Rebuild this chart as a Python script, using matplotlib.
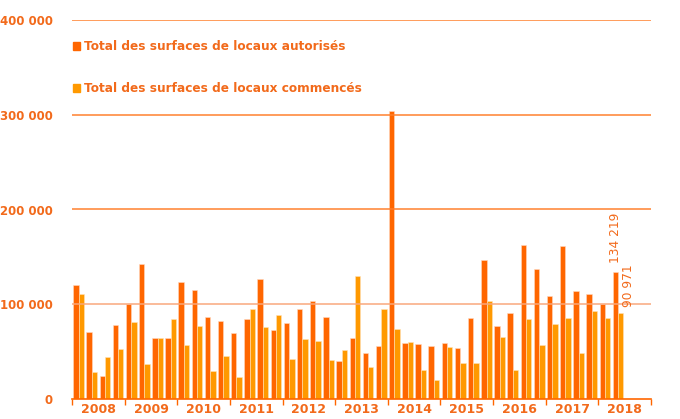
import matplotlib
matplotlib.use("Agg")
import matplotlib.pyplot as plt
from matplotlib.patches import Patch
import numpy as np

# Quarterly surfaces (m2), 2008 Q1 -> 2018 Q2
years = ["2008", "2009", "2010", "2011", "2012", "2013",
         "2014", "2015", "2016", "2017", "2018"]
autorises = [120000, 71000, 24000, 78000, 100000, 142000, 64000, 64000,
             124000, 115000, 86500, 82000, 70000, 84500, 127000, 73000,
             80000, 95000, 103500, 87000, 40000, 64000, 49000, 56000,
             303500, 59500, 58000, 56000, 59500, 54000, 85000, 147000,
             77000, 90500, 162500, 137000, 109000, 162000, 113500, 111000,
             100000, 134219]
commences = [110500, 28500, 44500, 53000, 81000, 37000, 64000, 84000,
             57000, 77000, 30000, 45000, 23000, 95000, 76000, 89000,
             42000, 63000, 61000, 41000, 51500, 129500, 33500, 94500,
             74000, 60500, 30500, 20500, 55000, 38000, 38000, 103000,
             65000, 30500, 84500, 57000, 79000, 85000, 48500, 93000,
             85500, 90971]
label_autorises = "Total des surfaces de locaux autorisés"
label_commences = "Total des surfaces de locaux commencés"
y_ticks = [0, 100000, 200000, 300000, 400000]

DARK = "#FF6600"
LIGHT = "#FF9900"
TEXT = "#F26A1B"

plt.rcParams['font.family'] = ['DejaVu Sans']


def fmt(v):
    return f"{v:,}".replace(",", " ")


fig = plt.figure(figsize=(6.8, 4.19), dpi=100)
ax = fig.add_axes([72 / 680, 20 / 419, 579 / 680, 379 / 419])

x = np.arange(len(autorises))
w = 0.41
ax.bar(x - w / 2, autorises, w, color=DARK, edgecolor="#FFD9C0", linewidth=0.4, zorder=2)
ax.bar(x + w / 2, commences, w, color=LIGHT, edgecolor="#FFE2B8", linewidth=0.4, zorder=2)

# grid lines on top of the bars
for v in y_ticks[1:]:
    col = "#F9A77A" if v == 100000 else "#FF7F2A"
    ax.axhline(v, color=col, linewidth=1.2, alpha=0.9, zorder=3)

ax.set_xlim(-0.5, 4 * len(years) - 0.5)
ax.set_ylim(0, 400000)

ax.set_yticks(y_ticks)
ax.set_yticklabels([fmt(v) for v in y_ticks])
ax.tick_params(axis="y", length=0, pad=14, labelsize=8.5, labelcolor=TEXT)
for t in ax.get_yticklabels():
    t.set_fontweight("bold")

ax.set_xticks(np.arange(len(years) + 1) * 4 - 0.5)
ax.set_xticklabels([])
ax.set_xticks(np.arange(len(years)) * 4 + 1.5, minor=True)
ax.set_xticklabels(years, minor=True)
ax.tick_params(axis="x", which="major", length=4, color=DARK, width=1)
ax.tick_params(axis="x", which="minor", length=0, pad=3, labelsize=9, labelcolor=TEXT)
for t in ax.get_xticklabels(minor=True):
    t.set_fontweight("bold")

for s in ["top", "right", "left"]:
    ax.spines[s].set_visible(False)
ax.spines["bottom"].set_color(DARK)
ax.spines["bottom"].set_linewidth(1.2)

# value labels on the last quarter
last = len(autorises) - 1
ax.text(last - w / 2, autorises[last] + 9000, fmt(autorises[last]),
        rotation=90, ha="center", va="bottom", color=TEXT, fontsize=8.8)
ax.text(last + w / 2 + 0.6, commences[last] + 6000, fmt(commences[last]),
        rotation=90, ha="center", va="bottom", color=TEXT, fontsize=8.8)

handles = [Patch(color=DARK), Patch(color=LIGHT)]
ax.legend(handles, [label_autorises, label_commences], loc="upper left",
          bbox_to_anchor=(-0.007, 0.96), frameon=False, handlelength=0.6,
          handleheight=0.6, handletextpad=0.35, labelspacing=2.4,
          prop={"weight": "bold", "size": 8.7}, labelcolor=TEXT,
          borderaxespad=0.0)

fig.savefig("out.png", dpi=100)
